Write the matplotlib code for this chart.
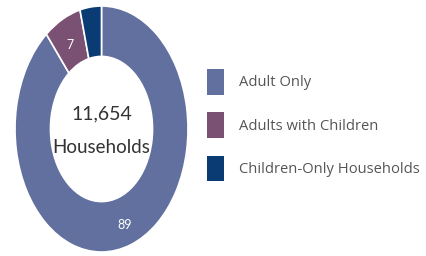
import matplotlib
matplotlib.use("Agg")
import matplotlib.pyplot as plt
from matplotlib.patches import Patch
import numpy as np

categories = ["Adult Only", "Adults with Children", "Children-Only Households"]
values = [89, 7, 4]
value_labels = ["89", "7", ""]
colors = ["#61709e", "#7a5073", "#0b3b73"]
center_number = "11,654"
center_label = "Households"

fig = plt.figure(figsize=(4.26, 2.56), dpi=100)
ax = fig.add_axes([15/426, 4/256, 173/426, 246/256])
wedges, _ = ax.pie(values, colors=colors, startangle=90, counterclock=False,
                   radius=1.0, wedgeprops=dict(width=0.41, edgecolor="white", linewidth=1.2))
ax.set_aspect("auto")
ax.set_xlim(-1, 1)
ax.set_ylim(-1, 1)

for w, lab in zip(wedges, value_labels):
    if not lab:
        continue
    ang = np.deg2rad((w.theta1 + w.theta2) / 2)
    r = 0.80
    ax.text(r*np.cos(ang), r*np.sin(ang) - 0.03, lab, ha="center", va="center",
            color="white", fontsize=9, family="Lato")

ax.text(0, 0.12, center_number, ha="center", va="center", fontsize=14,
        color="#333333", family="Lato")
ax.text(0, -0.15, center_label, ha="center", va="center", fontsize=13.5,
        color="#333333", family="Lato")

handles = [Patch(facecolor=c, edgecolor="none") for c in colors]
fig.legend(handles, categories, loc="upper left", bbox_to_anchor=(207/426, 1 - 69/256),
           frameon=False, handlelength=1.15, handleheight=2.3,
           handletextpad=1.0, labelspacing=1.2, borderaxespad=0, borderpad=0,
           prop=dict(family="Open Sans", size=10.6), labelcolor="#555555")

fig.savefig("out.png", dpi=100)
